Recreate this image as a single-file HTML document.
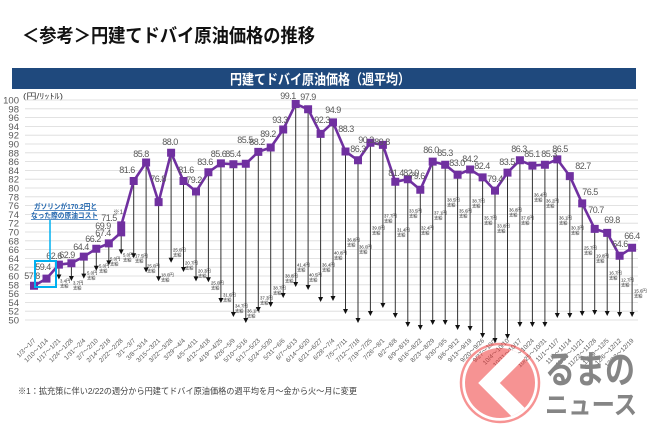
<!DOCTYPE html>
<html><head><meta charset="utf-8"><style>
html,body{margin:0;padding:0;background:#fff;}
svg{display:block;}
text{font-family:"Liberation Sans","Noto Sans CJK JP",sans-serif;}
</style></head><body>
<svg width="650" height="433" viewBox="0 0 650 433" xmlns="http://www.w3.org/2000/svg">
<rect width="650" height="433" fill="#fff"/>
<!-- Title -->
<text x="22" y="42" font-size="19" font-weight="bold" fill="#111" textLength="293" lengthAdjust="spacingAndGlyphs">＜参考＞円建てドバイ原油価格の推移</text>
<!-- Banner -->
<rect x="12" y="68" width="624" height="21" fill="#1F497D"/>
<text x="230" y="84.5" font-size="14" font-weight="bold" fill="#fff" textLength="180" lengthAdjust="spacingAndGlyphs">円建てドバイ原油価格（週平均）</text>
<!-- unit -->
<text x="23" y="99" font-size="8" fill="#404040" textLength="40" lengthAdjust="spacingAndGlyphs">(円/ﾘｯﾄﾙ)</text>
<!-- Gridlines -->
<g stroke="#D9D9D9" stroke-width="0.8">
<line x1="25" x2="638" y1="100" y2="100"/><line x1="25" x2="638" y1="108.8" y2="108.8"/><line x1="25" x2="638" y1="117.6" y2="117.6"/><line x1="25" x2="638" y1="126.4" y2="126.4"/><line x1="25" x2="638" y1="135.2" y2="135.2"/><line x1="25" x2="638" y1="144" y2="144"/><line x1="25" x2="638" y1="152.8" y2="152.8"/><line x1="25" x2="638" y1="161.6" y2="161.6"/><line x1="25" x2="638" y1="170.4" y2="170.4"/><line x1="25" x2="638" y1="179.2" y2="179.2"/><line x1="25" x2="638" y1="188" y2="188"/><line x1="25" x2="638" y1="196.8" y2="196.8"/><line x1="25" x2="638" y1="205.6" y2="205.6"/><line x1="25" x2="638" y1="214.4" y2="214.4"/><line x1="25" x2="638" y1="223.2" y2="223.2"/><line x1="25" x2="638" y1="232" y2="232"/><line x1="25" x2="638" y1="240.8" y2="240.8"/><line x1="25" x2="638" y1="249.6" y2="249.6"/><line x1="25" x2="638" y1="258.4" y2="258.4"/><line x1="25" x2="638" y1="267.2" y2="267.2"/><line x1="25" x2="638" y1="276" y2="276"/><line x1="25" x2="638" y1="284.8" y2="284.8"/><line x1="25" x2="638" y1="293.6" y2="293.6"/><line x1="25" x2="638" y1="302.4" y2="302.4"/><line x1="25" x2="638" y1="311.2" y2="311.2"/><line x1="25" x2="638" y1="320" y2="320"/>
</g>
<!-- Y labels -->
<g font-size="9.5" fill="#595959" text-anchor="end">
<text x="19" y="103.5">100</text><text x="19" y="112.3">98</text><text x="19" y="121.1">96</text><text x="19" y="129.9">94</text><text x="19" y="138.7">92</text><text x="19" y="147.5">90</text><text x="19" y="156.3">88</text><text x="19" y="165.1">86</text><text x="19" y="173.9">84</text><text x="19" y="182.7">82</text><text x="19" y="191.5">80</text><text x="19" y="200.3">78</text><text x="19" y="209.1">76</text><text x="19" y="217.9">74</text><text x="19" y="226.7">72</text><text x="19" y="235.5">70</text><text x="19" y="244.3">68</text><text x="19" y="253.1">66</text><text x="19" y="261.9">64</text><text x="19" y="270.7">62</text><text x="19" y="279.5">60</text><text x="19" y="288.3">58</text><text x="19" y="297.1">56</text><text x="19" y="305.9">54</text><text x="19" y="314.7">52</text><text x="19" y="323.5">50</text>
</g>
<!-- X labels -->
<g font-size="6.3" fill="#595959" text-anchor="end">
<text x="36" y="341" transform="rotate(-45 36 341)">1/3～1/7</text>
<text x="48.5" y="341" transform="rotate(-45 48.5 341)">1/10～1/14</text>
<text x="60.9" y="341" transform="rotate(-45 60.9 341)">1/17～1/21</text>
<text x="73.4" y="341" transform="rotate(-45 73.4 341)">1/24～1/28</text>
<text x="85.8" y="341" transform="rotate(-45 85.8 341)">1/31～2/4</text>
<text x="98.3" y="341" transform="rotate(-45 98.3 341)">2/7～2/10</text>
<text x="110.8" y="341" transform="rotate(-45 110.8 341)">2/14～2/18</text>
<text x="123.2" y="341" transform="rotate(-45 123.2 341)">2/22～2/28</text>
<text x="135.7" y="341" transform="rotate(-45 135.7 341)">3/1～3/7</text>
<text x="148.1" y="341" transform="rotate(-45 148.1 341)">3/8～3/14</text>
<text x="160.6" y="341" transform="rotate(-45 160.6 341)">3/15～3/21</text>
<text x="173.1" y="341" transform="rotate(-45 173.1 341)">3/22～3/28</text>
<text x="185.5" y="341" transform="rotate(-45 185.5 341)">3/29～4/4</text>
<text x="198" y="341" transform="rotate(-45 198 341)">4/5～4/11</text>
<text x="210.4" y="341" transform="rotate(-45 210.4 341)">4/12～4/18</text>
<text x="222.9" y="341" transform="rotate(-45 222.9 341)">4/19～4/25</text>
<text x="235.4" y="341" transform="rotate(-45 235.4 341)">4/26～5/9</text>
<text x="247.8" y="341" transform="rotate(-45 247.8 341)">5/10～5/16</text>
<text x="260.3" y="341" transform="rotate(-45 260.3 341)">5/17～5/23</text>
<text x="272.7" y="341" transform="rotate(-45 272.7 341)">5/24～5/30</text>
<text x="285.2" y="341" transform="rotate(-45 285.2 341)">5/31～6/6</text>
<text x="297.7" y="341" transform="rotate(-45 297.7 341)">6/7～6/13</text>
<text x="310.1" y="341" transform="rotate(-45 310.1 341)">6/14～6/20</text>
<text x="322.6" y="341" transform="rotate(-45 322.6 341)">6/21～6/27</text>
<text x="335" y="341" transform="rotate(-45 335 341)">6/28～7/4</text>
<text x="347.5" y="341" transform="rotate(-45 347.5 341)">7/5～7/11</text>
<text x="360" y="341" transform="rotate(-45 360 341)">7/12～7/18</text>
<text x="372.4" y="341" transform="rotate(-45 372.4 341)">7/19～7/25</text>
<text x="384.9" y="341" transform="rotate(-45 384.9 341)">7/26～8/1</text>
<text x="397.3" y="341" transform="rotate(-45 397.3 341)">8/2～8/8</text>
<text x="409.8" y="341" transform="rotate(-45 409.8 341)">8/9～8/15</text>
<text x="422.3" y="341" transform="rotate(-45 422.3 341)">8/16～8/22</text>
<text x="434.7" y="341" transform="rotate(-45 434.7 341)">8/23～8/29</text>
<text x="447.2" y="341" transform="rotate(-45 447.2 341)">8/30～9/5</text>
<text x="459.6" y="341" transform="rotate(-45 459.6 341)">9/6～9/12</text>
<text x="472.1" y="341" transform="rotate(-45 472.1 341)">9/13～9/19</text>
<text x="484.6" y="341" transform="rotate(-45 484.6 341)">9/20～9/26</text>
<text x="497" y="341" transform="rotate(-45 497 341)">9/27～10/3</text>
<text x="509.5" y="341" transform="rotate(-45 509.5 341)">10/4～10/10</text>
<text x="521.9" y="341" transform="rotate(-45 521.9 341)">10/11～10/17</text>
<text x="534.4" y="341" transform="rotate(-45 534.4 341)">10/18～10/24</text>
<text x="546.9" y="341" transform="rotate(-45 546.9 341)">10/25～10/31</text>
<text x="559.3" y="341" transform="rotate(-45 559.3 341)">11/1～11/7</text>
<text x="571.8" y="341" transform="rotate(-45 571.8 341)">11/8～11/14</text>
<text x="584.2" y="341" transform="rotate(-45 584.2 341)">11/15～11/21</text>
<text x="596.7" y="341" transform="rotate(-45 596.7 341)">11/22～11/28</text>
<text x="609.2" y="341" transform="rotate(-45 609.2 341)">11/29～12/5</text>
<text x="621.6" y="341" transform="rotate(-45 621.6 341)">12/6～12/12</text>
<text x="634.1" y="341" transform="rotate(-45 634.1 341)">12/13～12/19</text>
</g>
<!-- Arrows -->
<path fill="none" stroke="#333" stroke-width="1" d="M58.9 264.6V275 M71.4 263.2V276.5 M83.8 256.6V274 M96.3 248.7V266 M108.8 243.4V261 M121.2 225.4V250 M133.7 181V254 M146.1 162.5V268 M158.6 202.1V277 M171.1 152.8V258 M183.5 181V267.5 M196 191.5V277 M208.4 172.2V278 M220.9 163.4V298.5 M233.4 164.2V312.5 M245.8 163.8V318.5 M258.3 151.9V307.5 M270.7 147.5V302.5 M283.2 129.5V293.5 M295.7 104V282.5 M308.1 109.2V285.5 M320.6 133.9V297.5 M333 122.4V296.5 M345.5 151.5V309.5 M358 160.3V318.5 M370.4 142.7V311.5 M382.9 144.9V303.5 M395.3 181.8V313.5 M407.8 179.2V322.5 M420.3 189.8V325.5 M432.7 161.6V320.5 M445.2 164.7V320.5 M457.6 174.8V325.5 M470.1 169.5V326.5 M482.6 177.4V333.5 M495 190.6V338.5 M507.5 172.6V334.5 M519.9 160.3V322.5 M532.4 165.6V322.5 M544.9 164.7V322.5 M557.3 159.4V313.5 M569.8 176.1V313.5 M582.2 203.4V311.5 M594.7 228.9V310.5 M607.2 232.9V311.5 M619.6 255.8V312.5 M632.1 247.8V312.5"/>
<path fill="#111" d="M56.4 274.5h5l-2.5 5z M68.9 276h5l-2.5 5z M81.3 273.6h5l-2.5 5z M93.8 265.7h5l-2.5 5z M106.3 260.4h5l-2.5 5z M118.7 249.4h5l-2.5 5z M131.2 253.2h5l-2.5 5z M143.6 267.5h5l-2.5 5z M156.1 276.3h5l-2.5 5z M168.6 257.8h5l-2.5 5z M181 267h5l-2.5 5z M193.5 276.4h5l-2.5 5z M205.9 277.2h5l-2.5 5z M218.4 298h5l-2.5 5z M230.9 312h5l-2.5 5z M243.3 318h5l-2.5 5z M255.8 307h5l-2.5 5z M268.2 302h5l-2.5 5z M280.7 293h5l-2.5 5z M293.2 282h5l-2.5 5z M305.6 285h5l-2.5 5z M318.1 297h5l-2.5 5z M330.5 296h5l-2.5 5z M343 309h5l-2.5 5z M355.5 318h5l-2.5 5z M367.9 311h5l-2.5 5z M380.4 303h5l-2.5 5z M392.8 313h5l-2.5 5z M405.3 322h5l-2.5 5z M417.8 325h5l-2.5 5z M430.2 320h5l-2.5 5z M442.7 320h5l-2.5 5z M455.1 325h5l-2.5 5z M467.6 326h5l-2.5 5z M480.1 333h5l-2.5 5z M492.5 338h5l-2.5 5z M505 334h5l-2.5 5z M517.4 322h5l-2.5 5z M529.9 322h5l-2.5 5z M542.4 322h5l-2.5 5z M554.8 313h5l-2.5 5z M567.3 313h5l-2.5 5z M579.7 311h5l-2.5 5z M592.2 310h5l-2.5 5z M604.7 311h5l-2.5 5z M617.1 312h5l-2.5 5z M629.6 312h5l-2.5 5z"/>
<!-- Arrow labels -->
<g font-size="4.3" fill="#222">
<text x="60" y="282.5">3.4円<tspan x="60" dy="5">支給</tspan></text>
<text x="73" y="284.5">3.7円<tspan x="73" dy="5">支給</tspan></text>
<text x="87" y="274.5">5.0円<tspan x="87" dy="5">支給</tspan></text>
<text x="99" y="267.5">5.0円<tspan x="99" dy="5">支給</tspan></text>
<text x="110" y="260.5">5.0円<tspan x="110" dy="5">支給</tspan></text>
<text x="123" y="256.5">5.0円<tspan x="123" dy="5">支給</tspan></text>
<text x="135" y="257.5">17.5円<tspan x="135" dy="5">支給</tspan></text>
<text x="147" y="267.5">25.0円<tspan x="147" dy="5">支給</tspan></text>
<text x="161" y="276.5">18.0円<tspan x="161" dy="5">支給</tspan></text>
<text x="173" y="251.5">25.0円<tspan x="173" dy="5">支給</tspan></text>
<text x="185" y="264.5">20.7円<tspan x="185" dy="5">支給</tspan></text>
<text x="198" y="272.5">20.3円<tspan x="198" dy="5">支給</tspan></text>
<text x="211" y="284.5">25.0円<tspan x="211" dy="5">支給</tspan></text>
<text x="223" y="296.5">31.6円<tspan x="223" dy="5">支給</tspan></text>
<text x="235" y="307.5">34.7円<tspan x="235" dy="5">支給</tspan></text>
<text x="247" y="312.5">36.1円<tspan x="247" dy="5">支給</tspan></text>
<text x="260" y="299.5">37.3円<tspan x="260" dy="5">支給</tspan></text>
<text x="273" y="289.5">38.7円<tspan x="273" dy="5">支給</tspan></text>
<text x="285" y="277.5">38.8円<tspan x="285" dy="5">支給</tspan></text>
<text x="297" y="266.5">41.4円<tspan x="297" dy="5">支給</tspan></text>
<text x="309" y="276.5">40.5円<tspan x="309" dy="5">支給</tspan></text>
<text x="322" y="266.5">36.4円<tspan x="322" dy="5">支給</tspan></text>
<text x="334" y="254.5">40.8円<tspan x="334" dy="5">支給</tspan></text>
<text x="347" y="241.5">36.8円<tspan x="347" dy="5">支給</tspan></text>
<text x="359" y="248.5">36.0円<tspan x="359" dy="5">支給</tspan></text>
<text x="372" y="229.5">39.0円<tspan x="372" dy="5">支給</tspan></text>
<text x="384" y="217.5">37.7円<tspan x="384" dy="5">支給</tspan></text>
<text x="397" y="231.5">31.4円<tspan x="397" dy="5">支給</tspan></text>
<text x="409" y="212.5">33.5円<tspan x="409" dy="5">支給</tspan></text>
<text x="421" y="229.5">32.4円<tspan x="421" dy="5">支給</tspan></text>
<text x="434" y="214.5">37.1円<tspan x="434" dy="5">支給</tspan></text>
<text x="447" y="201.5">38.5円<tspan x="447" dy="5">支給</tspan></text>
<text x="459" y="212.5">35.6円<tspan x="459" dy="5">支給</tspan></text>
<text x="472" y="202.5">38.7円<tspan x="472" dy="5">支給</tspan></text>
<text x="484" y="219.5">35.7円<tspan x="484" dy="5">支給</tspan></text>
<text x="497" y="227.5">33.8円<tspan x="497" dy="5">支給</tspan></text>
<text x="509" y="211.5">36.8円<tspan x="509" dy="5">支給</tspan></text>
<text x="521" y="219.5">37.6円<tspan x="521" dy="5">支給</tspan></text>
<text x="534" y="196.5">36.4円<tspan x="534" dy="5">支給</tspan></text>
<text x="546" y="202.5">36.2円<tspan x="546" dy="5">支給</tspan></text>
<text x="559" y="219.5">36.1円<tspan x="559" dy="5">支給</tspan></text>
<text x="571" y="229.5">30.3円<tspan x="571" dy="5">支給</tspan></text>
<text x="584" y="249.5">25.7円<tspan x="584" dy="5">支給</tspan></text>
<text x="596" y="257.5">19.8円<tspan x="596" dy="5">支給</tspan></text>
<text x="609" y="274.5">16.7円<tspan x="609" dy="5">支給</tspan></text>
<text x="621" y="281.5">12.7円<tspan x="621" dy="5">支給</tspan></text>
<text x="634" y="292.5">15.6円<tspan x="634" dy="5">支給</tspan></text>
</g>
<!-- Series line -->
<polyline fill="none" stroke="#7030A0" stroke-width="2.6" stroke-linejoin="round" points="34,285.7 46.5,278.6 58.9,264.6 71.4,263.2 83.8,256.6 96.3,248.7 108.8,243.4 121.2,232.4 121.2,225.4 133.7,181 146.1,162.5 158.6,202.1 171.1,152.8 183.5,181 196,191.5 208.4,172.2 220.9,163.4 233.4,164.2 245.8,163.8 258.3,151.9 270.7,147.5 283.2,129.5 295.7,104 308.1,109.2 320.6,133.9 333,122.4 345.5,151.5 358,160.3 370.4,142.7 382.9,144.9 395.3,181.8 407.8,179.2 420.3,189.8 432.7,161.6 445.2,164.7 457.6,174.8 470.1,169.5 482.6,177.4 495,190.6 507.5,172.6 519.9,160.3 532.4,165.6 544.9,164.7 557.3,159.4 569.8,176.1 582.2,203.4 594.7,228.9 607.2,232.9 619.6,255.8 632.1,247.8"/>
<!-- Markers -->
<path fill="#7030A0" d="M30 281.7h8v8h-8z M42.5 274.6h8v8h-8z M54.9 260.6h8v8h-8z M67.4 259.2h8v8h-8z M79.8 252.6h8v8h-8z M92.3 244.7h8v8h-8z M104.8 239.4h8v8h-8z M117.2 228.4h8v8h-8z M117.2 221.4h8v8h-8z M129.7 177h8v8h-8z M142.1 158.5h8v8h-8z M154.6 198.1h8v8h-8z M167.1 148.8h8v8h-8z M179.5 177h8v8h-8z M192 187.5h8v8h-8z M204.4 168.2h8v8h-8z M216.9 159.4h8v8h-8z M229.4 160.2h8v8h-8z M241.8 159.8h8v8h-8z M254.3 147.9h8v8h-8z M266.7 143.5h8v8h-8z M279.2 125.5h8v8h-8z M291.7 100h8v8h-8z M304.1 105.2h8v8h-8z M316.6 129.9h8v8h-8z M329 118.4h8v8h-8z M341.5 147.5h8v8h-8z M354 156.3h8v8h-8z M366.4 138.7h8v8h-8z M378.9 140.9h8v8h-8z M391.3 177.8h8v8h-8z M403.8 175.2h8v8h-8z M416.3 185.8h8v8h-8z M428.7 157.6h8v8h-8z M441.2 160.7h8v8h-8z M453.6 170.8h8v8h-8z M466.1 165.5h8v8h-8z M478.6 173.4h8v8h-8z M491 186.6h8v8h-8z M503.5 168.6h8v8h-8z M515.9 156.3h8v8h-8z M528.4 161.6h8v8h-8z M540.9 160.7h8v8h-8z M553.3 155.4h8v8h-8z M565.8 172.1h8v8h-8z M578.2 199.4h8v8h-8z M590.7 224.9h8v8h-8z M603.2 228.9h8v8h-8z M615.6 251.8h8v8h-8z M628.1 243.8h8v8h-8z"/>
<!-- Data labels -->
<g font-size="9" fill="#595959" text-anchor="middle" style="letter-spacing:-0.5px">
<text x="32" y="279">57.8</text><text x="43" y="270">59.4</text><text x="54" y="259">62.6</text><text x="67" y="258">62.9</text><text x="81" y="250">64.4</text><text x="93" y="242">66.2</text><text x="103" y="236">67.4</text><text x="103" y="229">69.9</text><text x="109" y="221">71.5</text>
<text x="127" y="173">81.6</text><text x="141" y="157">85.8</text><text x="158" y="182">76.8</text><text x="170" y="145">88.0</text><text x="186" y="173">81.6</text><text x="194" y="183">79.2</text><text x="205" y="165">83.6</text><text x="218.5" y="157">85.6</text><text x="233" y="157">85.4</text><text x="245" y="143">85.5</text><text x="257" y="145">88.2</text><text x="268" y="137">89.2</text><text x="280" y="123">93.3</text><text x="288" y="99">99.1</text><text x="308" y="100">97.9</text><text x="322" y="123">92.3</text><text x="333" y="113">94.9</text><text x="346" y="132">88.3</text><text x="358" y="152">86.3</text><text x="366" y="143">90.3</text><text x="382" y="145">89.8</text><text x="396" y="176">81.4</text><text x="411" y="176">82.0</text><text x="417" y="179">79.6</text><text x="431" y="153">86.0</text><text x="445" y="156">85.3</text><text x="457" y="166">83.0</text><text x="470" y="162">84.2</text><text x="482" y="169">82.4</text><text x="495" y="182">79.4</text><text x="507" y="165">83.5</text><text x="519" y="152">86.3</text><text x="532" y="157">85.1</text><text x="549" y="157">85.3</text><text x="560" y="152">86.5</text><text x="583" y="169">82.7</text><text x="590" y="195">76.5</text><text x="596" y="213">70.7</text><text x="612" y="223">69.8</text><text x="620" y="247">64.6</text><text x="632" y="239">66.4</text>
</g>
<text x="113" y="214" font-size="6.5" fill="#595959">※1</text>
<!-- Callout -->
<rect x="35" y="261" width="21" height="26" fill="none" stroke="#00B0F0" stroke-width="2"/>
<line x1="50" y1="220" x2="50" y2="261" stroke="#00B0F0" stroke-width="1.5"/>
<g font-size="7.5" font-weight="bold" fill="#2468B0" text-decoration="underline">
<text x="34" y="209" textLength="63" lengthAdjust="spacingAndGlyphs">ガソリンが170.2円と</text>
<text x="31" y="218" textLength="67" lengthAdjust="spacingAndGlyphs">なった際の原油コスト</text>
</g>
<!-- Note -->
<text x="18" y="394" font-size="8.5" fill="#404040" textLength="339" lengthAdjust="spacingAndGlyphs">※1：拡充策に伴い2/22の週分から円建てドバイ原油価格の週平均を月～金から火～月に変更</text>
<!-- Logo watermark -->
<defs><clipPath id="cc"><circle cx="500" cy="383" r="35"/></clipPath></defs>
<g opacity="0.55">
<circle cx="500" cy="383" r="39" fill="none" stroke="#F03C3C" stroke-width="2.5"/>
<circle cx="500" cy="383" r="35" fill="#F03C3C"/>
</g>
<polyline clip-path="url(#cc)" points="532,340 489,383 532,426" fill="none" stroke="#fff" stroke-width="15.3" stroke-linejoin="miter"/>
<g fill="#858585" font-weight="bold" font-family="'Noto Sans CJK JP',sans-serif">
<text x="545" y="383" font-size="38" textLength="90" lengthAdjust="spacingAndGlyphs">るまの</text>
<text x="545" y="414" font-size="26" textLength="92" lengthAdjust="spacingAndGlyphs">ニュース</text>
</g>
</svg>
</body></html>
